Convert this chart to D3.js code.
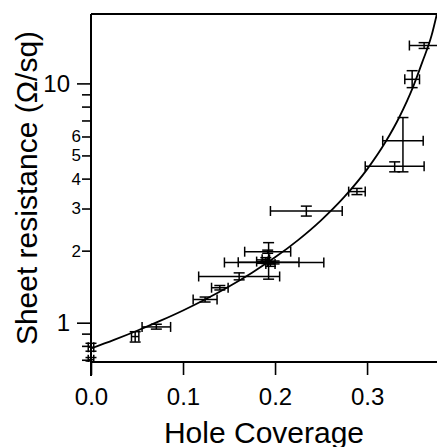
<!DOCTYPE html>
<html>
<head>
<meta charset="utf-8">
<script src="https://cdn.jsdelivr.net/npm/d3@7"></script>
<style>
  body { margin: 0; background: #fff; }
  text { font-family: "Liberation Sans", Arial, sans-serif; fill: #000; }
</style>
</head>
<body>
<svg id="chart" width="437" height="447"></svg>
<script>
  var coverage    = [0, 0, 0.048, 0.071, 0.124, 0.140, 0.161, 0.192, 0.199, 0.193, 0.186, 0.195, 0.190, 0.234, 0.289, 0.330, 0.339, 0.349, 0.362];
  var coverageErr = [0.003, 0.003, 0.004, 0.0155, 0.013, 0.009, 0.044, 0.025, 0.054, 0.033, 0.006, 0.005, 0.004, 0.039, 0.009, 0.032, 0.022, 0.008, 0.016];
  var resistance  = [0.79, 0.70, 0.875, 0.96, 1.25, 1.40, 1.56, 1.98, 1.785, 1.79, 1.80, 1.76, 1.84, 2.93, 3.53, 4.51, 5.76, 10.4, 14.4];
  var resLow      = [0.76, 0.685, 0.83, 0.94, 1.22, 1.37, 1.51, 1.95, 1.76, 1.52, 1.77, 1.72, 1.81, 2.79, 3.43, 4.27, 4.27, 9.6, 14.0];
  var resHigh     = [0.82, 0.715, 0.917, 0.985, 1.28, 1.43, 1.615, 2.01, 1.81, 2.16, 1.83, 1.80, 1.87, 3.07, 3.64, 4.70, 7.2, 11.3, 14.8];

  // Courbe d'ajustement
  var fitCoverage   = [0, 0.025, 0.05, 0.075, 0.1, 0.125, 0.15, 0.175, 0.2, 0.225, 0.25, 0.275, 0.3, 0.32, 0.335, 0.35, 0.36, 0.37, 0.376];
  var fitResistance = [0.78, 0.847, 0.925, 1.017, 1.125, 1.256, 1.417, 1.618, 1.875, 2.214, 2.678, 3.346, 4.372, 5.686, 7.22, 9.67, 12.27, 15.8, 19.6];

  // Axes
  var xTicks = [0, 0.1, 0.2, 0.3];
  var yTicks = [0.7, 0.8, 0.9, 1, 2, 3, 4, 5, 6, 7, 8, 9, 10];
  var yLabelled = [1, 2, 3, 4, 5, 6, 10];
  var yDecades = [1, 10];

  var margin = { top: 14, right: 0, bottom: 85, left: 91 };
  var W = 437, H = 447;
  var width = W - margin.left - margin.right;
  var height = H - margin.top - margin.bottom;

  var x = d3.scaleLinear().domain([0, 0.376]).range([0, width]);
  var y = d3.scaleLog().domain([0.685, 19.5]).range([height, 0]);

  var svg = d3.select("#chart");
  var g = svg.append("g")
    .attr("transform", "translate(" + margin.left + "," + margin.top + ")");

  svg.append("defs").append("clipPath")
    .attr("id", "clip")
    .append("rect")
    .attr("x", -8).attr("y", 0)
    .attr("width", width + 8).attr("height", height);

  // axe x
  var xAxis = d3.axisBottom(x)
    .tickValues(xTicks)
    .tickFormat(d3.format(".1f"))
    .tickSize(13)
    .tickPadding(13);

  var gx = g.append("g")
    .attr("transform", "translate(0," + height + ")")
    .call(xAxis);
  gx.select(".domain").remove();
  gx.selectAll(".tick line").attr("stroke", "#000").attr("stroke-width", 1.6);
  gx.selectAll(".tick text").style("font-size", "24px").attr("fill", "#000");

  // axe y : décades en grand, les autres étiquettes plus petites
  var yAxis = d3.axisLeft(y)
    .tickValues(yTicks)
    .tickFormat(function(d) { return yLabelled.indexOf(d) >= 0 ? String(d) : ""; })
    .tickSize(9)
    .tickPadding(1);

  var gy = g.append("g").call(yAxis);
  gy.select(".domain").remove();
  gy.selectAll(".tick line").attr("stroke", "#000").attr("stroke-width", 1.6);
  gy.selectAll(".tick text").style("font-size", "17px").attr("fill", "#000");
  gy.selectAll(".tick").filter(function(d) { return yDecades.indexOf(d) >= 0; })
    .each(function() {
      d3.select(this).select("line").attr("x2", -14);
      d3.select(this).select("text").attr("x", -21).style("font-size", "24px");
    });

  // cadre : gauche, haut, bas
  g.append("line").attr("x1", 0).attr("x2", 0).attr("y1", 0).attr("y2", height + 14)
    .attr("stroke", "#000").attr("stroke-width", 2);
  g.append("line").attr("x1", 0).attr("x2", width).attr("y1", 0).attr("y2", 0)
    .attr("stroke", "#000").attr("stroke-width", 2);
  g.append("line").attr("x1", 0).attr("x2", width).attr("y1", height).attr("y2", height)
    .attr("stroke", "#000").attr("stroke-width", 2);

  // courbe
  var fit = fitCoverage.map(function(c, i) { return [c, fitResistance[i]]; });
  var line = d3.line()
    .x(function(d) { return x(d[0]); })
    .y(function(d) { return y(d[1]); })
    .curve(d3.curveMonotoneX);

  var plot = g.append("g").attr("clip-path", "url(#clip)");

  plot.append("path")
    .datum(fit)
    .attr("fill", "none")
    .attr("stroke", "#000")
    .attr("stroke-width", 1.8)
    .attr("d", line);

  // barres d'erreur
  var points = coverage.map(function(c, i) {
    return { c: c, r: resistance[i], dc: coverageErr[i], lo: resLow[i], hi: resHigh[i] };
  });

  var capX = 5, capY = 5.5;
  var bars = plot.selectAll(".err")
    .data(points)
    .enter().append("g")
    .attr("class", "err")
    .attr("stroke", "#000")
    .attr("stroke-width", 1.5);

  bars.append("line")
    .attr("x1", function(d) { return x(d.c - d.dc); })
    .attr("x2", function(d) { return x(d.c + d.dc); })
    .attr("y1", function(d) { return y(d.r); })
    .attr("y2", function(d) { return y(d.r); });
  bars.append("line")
    .attr("x1", function(d) { return x(d.c - d.dc); })
    .attr("x2", function(d) { return x(d.c - d.dc); })
    .attr("y1", function(d) { return y(d.r) - capX; })
    .attr("y2", function(d) { return y(d.r) + capX; });
  bars.append("line")
    .attr("x1", function(d) { return x(d.c + d.dc); })
    .attr("x2", function(d) { return x(d.c + d.dc); })
    .attr("y1", function(d) { return y(d.r) - capX; })
    .attr("y2", function(d) { return y(d.r) + capX; });

  bars.append("line")
    .attr("x1", function(d) { return x(d.c); })
    .attr("x2", function(d) { return x(d.c); })
    .attr("y1", function(d) { return y(d.lo); })
    .attr("y2", function(d) { return y(d.hi); });
  bars.append("line")
    .attr("x1", function(d) { return x(d.c) - capY; })
    .attr("x2", function(d) { return x(d.c) + capY; })
    .attr("y1", function(d) { return y(d.lo); })
    .attr("y2", function(d) { return y(d.lo); });
  bars.append("line")
    .attr("x1", function(d) { return x(d.c) - capY; })
    .attr("x2", function(d) { return x(d.c) + capY; })
    .attr("y1", function(d) { return y(d.hi); })
    .attr("y2", function(d) { return y(d.hi); });

  // titres des axes
  svg.append("text")
    .attr("x", margin.left + width / 2)
    .attr("y", 443)
    .attr("text-anchor", "middle")
    .style("font-size", "30px")
    .text("Hole Coverage");

  svg.append("text")
    .attr("transform", "translate(37," + (margin.top + height / 2) + ") rotate(-90)")
    .attr("text-anchor", "middle")
    .style("font-size", "30px")
    .text("Sheet resistance (Ω/sq)");
</script>
</body>
</html>
